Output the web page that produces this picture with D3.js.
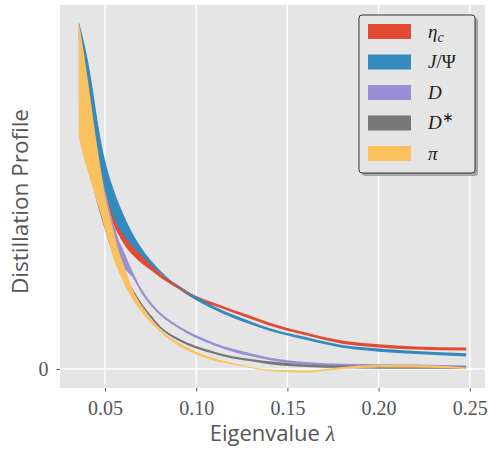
<!DOCTYPE html>
<html>
<head>
<meta charset="utf-8">
<script src="https://cdn.jsdelivr.net/npm/d3@7"></script>
<style>
  html, body { margin: 0; padding: 0; background: #ffffff; }
  svg { display: block; }
</style>
</head>
<body>
<svg id="chart" width="489" height="449"></svg>
<script>
// Eigenvalue grid shared by all profiles
const lambda = [0.0357, 0.0375, 0.0400, 0.0425, 0.0450, 0.0475, 0.0500, 0.0525, 0.0550, 0.0575,
                0.0600, 0.0650, 0.0700, 0.0750, 0.0800, 0.0900, 0.1000, 0.1100, 0.1200, 0.1300,
                0.1400, 0.1600, 0.1800, 0.2000, 0.2200, 0.2480];

// Lower / upper envelopes of each distillation profile (arbitrary units)
const etacLow  = [94.8, 90.5, 84.7, 74.6, 66.0, 57.3, 51.6, 45.8, 41.2, 38.6, 36.3, 32.9, 30.5, 28.5, 26.5, 23.1, 19.9, 18.2, 16.3, 14.4, 12.5, 9.7, 7.3, 6.2, 5.6, 5.3];
const etacHigh = [99.1, 95.4, 89.6, 82.4, 73.8, 65.7, 59.4, 54.5, 50.4, 47.0, 43.8, 38.3, 34.0, 30.5, 27.7, 24.2, 21.0, 19.0, 17.1, 15.3, 13.4, 10.5, 8.2, 7.1, 6.5, 6.2];

const jpsiLow  = [94.8, 90.5, 84.7, 74.6, 66.0, 57.3, 51.6, 47.0, 43.2, 40.6, 38.6, 35.4, 32.6, 30.0, 27.7, 23.6, 19.9, 17.1, 14.8, 12.8, 11.0, 8.4, 6.1, 5.0, 4.3, 3.6];
const jpsiHigh = [100.0, 96.3, 90.5, 83.3, 74.6, 66.6, 60.2, 55.3, 51.3, 47.8, 44.7, 39.2, 34.9, 31.4, 28.5, 23.9, 20.9, 18.0, 15.7, 13.7, 11.8, 9.2, 6.9, 5.9, 5.2, 4.5];

const dLow     = [77.5, 73.2, 67.4, 60.8, 54.5, 48.7, 44.4, 40.6, 37.2, 33.1, 29.7, 26.5, 21.9, 18.3, 15.6, 11.8, 8.9, 6.8, 5.0, 3.7, 2.6, 1.3, 0.8, 0.7, 0.5, 0.3];
const dHigh    = [99.4, 93.7, 84.4, 75.2, 65.7, 57.3, 51.6, 45.8, 41.2, 37.2, 34.3, 28.2, 23.1, 19.3, 16.4, 12.5, 9.7, 7.5, 5.8, 4.5, 3.3, 2.0, 1.5, 1.4, 1.3, 1.0];

const dstarLow  = [68.9, 66.0, 60.2, 54.5, 49.3, 44.4, 40.1, 35.7, 32.6, 29.7, 26.8, 22.2, 18.2, 14.8, 11.8, 8.2, 5.9, 4.3, 3.0, 2.2, 1.4, 0.6, 0.3, 0.1, 0.1, 0.0];
const dstarHigh = [96.3, 91.9, 84.7, 76.1, 66.0, 57.3, 49.3, 42.9, 37.8, 32.9, 28.5, 23.3, 19.0, 15.6, 12.5, 8.9, 6.6, 5.0, 3.7, 2.9, 2.2, 1.3, 1.0, 0.9, 0.9, 0.7];

const piLow    = [66.6, 62.5, 57.9, 53.6, 49.3, 45.0, 40.3, 35.7, 31.4, 28.0, 25.1, 20.2, 16.4, 13.4, 10.7, 6.8, 4.2, 2.4, 1.3, 0.3, -0.6, -1.0, -0.1, 0.4, 0.4, -0.1];
const piHigh   = [99.7, 94.2, 85.3, 76.1, 66.6, 58.2, 50.1, 44.4, 39.2, 34.0, 30.3, 23.1, 18.2, 14.6, 11.5, 7.6, 5.0, 3.0, 1.7, 0.6, -0.14, -0.43, 0.6, 1.15, 1.15, 0.43];

const xTicks = [0.05, 0.10, 0.15, 0.20, 0.25];
const yTicks = [0];

const seriesNames  = ["η_c", "J/Ψ", "D", "D*", "π"];
const seriesColors = ["#E24A33", "#348ABD", "#988ED5", "#777777", "#FBC15E"];
const seriesLow    = [etacLow, jpsiLow, dLow, dstarLow, piLow];
const seriesHigh   = [etacHigh, jpsiHigh, dHigh, dstarHigh, piHigh];

const svg = d3.select("#chart");
const plot = { left: 60, right: 485, top: 5, bottom: 388 };

const x = d3.scaleLinear().domain([0.02533, 0.25833]).range([plot.left, plot.right]);
const y = d3.scaleLinear().domain([-5.48, 104.9]).range([plot.bottom, plot.top]);

// panel background
svg.append("rect")
  .attr("x", plot.left).attr("y", plot.top)
  .attr("width", plot.right - plot.left).attr("height", plot.bottom - plot.top)
  .attr("fill", "#E5E5E5");

// grid
const grid = svg.append("g");
grid.selectAll("line.vx").data(xTicks).join("line")
  .attr("x1", d => x(d)).attr("x2", d => x(d))
  .attr("y1", plot.top).attr("y2", plot.bottom)
  .attr("stroke", "#ffffff").attr("stroke-width", 1.4);
grid.selectAll("line.hy").data(yTicks).join("line")
  .attr("x1", plot.left).attr("x2", plot.right)
  .attr("y1", d => y(d)).attr("y2", d => y(d))
  .attr("stroke", "#ffffff").attr("stroke-width", 1.4);

// bands
const area = d3.area()
  .x(d => x(d.lam))
  .y0(d => y(d.lo))
  .y1(d => y(d.hi))
  .curve(d3.curveMonotoneX);

seriesNames.forEach((name, i) => {
  const pts = lambda.map((lam, j) => ({ lam, lo: seriesLow[i][j], hi: seriesHigh[i][j] }));
  svg.append("path")
    .datum(pts)
    .attr("d", area)
    .attr("fill", seriesColors[i])
    .attr("stroke", "none");
});

// axes
const xAxis = d3.axisBottom(x).tickValues(xTicks).tickFormat(d3.format(".2f")).tickSize(3.5).tickPadding(9);
const gx = svg.append("g").attr("transform", `translate(0,${plot.bottom})`).call(xAxis);
gx.select(".domain").remove();
gx.selectAll(".tick line").attr("stroke", "#555555").attr("stroke-width", 1);
gx.selectAll(".tick text")
  .attr("fill", "#555555")
  .style("font-family", "'Liberation Serif', serif")
  .style("font-size", "20px");

const yAxis = d3.axisLeft(y).tickValues(yTicks).tickFormat(d3.format("d")).tickSize(3.5).tickPadding(8);
const gy = svg.append("g").attr("transform", `translate(${plot.left},0)`).call(yAxis);
gy.select(".domain").remove();
gy.selectAll(".tick line").attr("stroke", "#555555").attr("stroke-width", 1);
gy.selectAll(".tick text")
  .attr("fill", "#555555")
  .style("font-family", "'Liberation Serif', serif")
  .style("font-size", "20px");

// axis titles
const xTitle = svg.append("text")
  .attr("x", (plot.left + plot.right) / 2).attr("y", 441)
  .attr("text-anchor", "middle")
  .attr("fill", "#555555")
  .style("font-family", "'Open Sans', sans-serif")
  .style("font-size", "22px");
xTitle.append("tspan").text("Eigenvalue ");
xTitle.append("tspan").style("font-family", "'Liberation Serif', serif").style("font-style", "italic").text("λ");

svg.append("text")
  .attr("transform", `translate(28,${(plot.top + plot.bottom) / 2 + 5}) rotate(-90)`)
  .attr("text-anchor", "middle")
  .attr("fill", "#555555")
  .style("font-family", "'Open Sans', sans-serif")
  .style("font-size", "22.5px")
  .text("Distillation Profile");

// legend
const leg = { x: 359, y: 15, w: 116, h: 158 };
svg.append("rect")
  .attr("x", leg.x + 3).attr("y", leg.y + 3)
  .attr("width", leg.w).attr("height", leg.h)
  .attr("rx", 3)
  .attr("fill", "#7a7a7a").attr("opacity", 0.6);
svg.append("rect")
  .attr("x", leg.x).attr("y", leg.y)
  .attr("width", leg.w).attr("height", leg.h)
  .attr("rx", 3)
  .attr("fill", "#E5E5E5").attr("stroke", "#333333").attr("stroke-width", 1);

const rowY = d3.scaleLinear().domain([0, 4]).range([leg.y + 16.5, leg.y + 138.5]);
const items = svg.append("g").selectAll("g").data(seriesNames).join("g")
  .attr("transform", (d, i) => `translate(${leg.x + 9},${rowY(i)})`);
items.append("rect")
  .attr("x", 0).attr("y", -7.5).attr("width", 43).attr("height", 15)
  .attr("fill", (d, i) => seriesColors[i]);

const labels = items.append("text")
  .attr("x", 60).attr("y", 6)
  .attr("fill", "#222222")
  .style("font-family", "'Liberation Serif', serif")
  .style("font-size", "19px");

labels.each(function (d) {
  const t = d3.select(this);
  if (d === "η_c") {
    t.append("tspan").style("font-style", "italic").text("η");
    t.append("tspan").style("font-style", "italic").style("font-size", "14px").attr("dy", 4).text("c");
  } else if (d === "J/Ψ") {
    t.append("tspan").style("font-style", "italic").text("J");
    t.append("tspan").text("/Ψ");
  } else if (d === "D*") {
    t.append("tspan").style("font-style", "italic").text("D");
    t.append("tspan").style("font-size", "14px").attr("dy", -7).text("∗");
  } else {
    t.append("tspan").style("font-style", "italic").text(d);
  }
});
</script>
</body>
</html>
